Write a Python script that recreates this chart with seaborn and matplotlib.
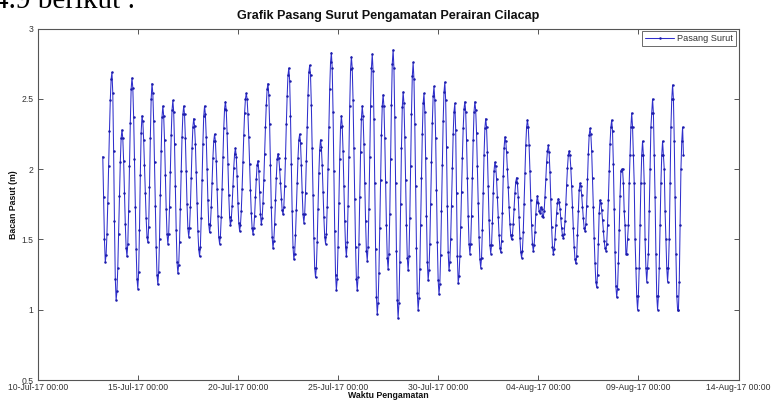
import matplotlib
matplotlib.use("Agg")
import matplotlib.pyplot as plt
import matplotlib.dates as mdates
from matplotlib.ticker import FuncFormatter, FixedLocator
import numpy as np
import pandas as pd
import seaborn as sns

# ---------------- data (hourly tide readings, m) ----------------
start_time = "2017-07-13 06:00"
bacan_pasut = [
    2.09, 1.80, 1.50, 1.34, 1.39, 1.54, 1.76, 2.02, 2.27, 2.49, 2.64, 2.69,
    2.54, 2.13, 1.63, 1.22, 1.07, 1.13, 1.30, 1.54, 1.81, 2.05, 2.22, 2.28,
    2.22, 2.06, 1.83, 1.61, 1.44, 1.38, 1.47, 1.70, 2.02, 2.33, 2.57, 2.65,
    2.58, 2.37, 2.07, 1.73, 1.43, 1.22, 1.15, 1.27, 1.57, 1.96, 2.26, 2.38,
    2.34, 2.21, 2.03, 1.83, 1.65, 1.52, 1.48, 1.59, 1.87, 2.22, 2.50, 2.61,
    2.54, 2.34, 2.05, 1.74, 1.45, 1.25, 1.18, 1.27, 1.50, 1.82, 2.13, 2.37, 2.45,
    2.38, 2.21, 1.96, 1.72, 1.54, 1.47, 1.54, 1.73, 1.98, 2.24, 2.42, 2.49,
    2.41, 2.18, 1.88, 1.57, 1.34, 1.26, 1.32, 1.48, 1.72, 1.99, 2.23, 2.39, 2.45,
    2.39, 2.22, 1.99, 1.75, 1.58, 1.52, 1.58, 1.73, 1.94, 2.15, 2.30, 2.36,
    2.31, 2.18, 1.98, 1.76, 1.56, 1.43, 1.38, 1.45, 1.65, 1.92, 2.18, 2.38, 2.45,
    2.39, 2.23, 2.00, 1.78, 1.61, 1.55, 1.60, 1.73, 1.90, 2.08, 2.20, 2.25,
    2.20, 2.06, 1.86, 1.67, 1.52, 1.47, 1.52, 1.66, 1.86, 2.09, 2.29, 2.43, 2.48,
    2.42, 2.26, 2.04, 1.82, 1.66, 1.60, 1.64, 1.74, 1.88, 2.01, 2.11, 2.15,
    2.09, 1.95, 1.76, 1.62, 1.56, 1.60, 1.70, 1.86, 2.05, 2.24, 2.40, 2.50, 2.54,
    2.50, 2.39, 2.23, 2.04, 1.85, 1.69, 1.58, 1.54, 1.58, 1.67, 1.80, 1.93, 2.03, 2.06,
    1.99, 1.84, 1.68, 1.61, 1.65, 1.76, 1.92, 2.11, 2.30, 2.46, 2.57, 2.61,
    2.53, 2.32, 2.03, 1.73, 1.52, 1.44, 1.49, 1.61, 1.78, 1.94, 2.07, 2.11,
    2.08, 2.00, 1.90, 1.79, 1.71, 1.68, 1.73, 1.88, 2.08, 2.32, 2.52, 2.67, 2.72,
    2.63, 2.38, 2.04, 1.70, 1.45, 1.36, 1.40, 1.53, 1.71, 1.90, 2.08, 2.21, 2.25,
    2.19, 2.03, 1.84, 1.68, 1.62, 1.68, 1.83, 2.06, 2.30, 2.53, 2.69, 2.74,
    2.67, 2.46, 2.15, 1.82, 1.51, 1.30, 1.23, 1.30, 1.48, 1.72, 1.97, 2.14, 2.21,
    2.16, 2.03, 1.84, 1.66, 1.52, 1.47, 1.54, 1.73, 2.00, 2.30, 2.57, 2.76, 2.83,
    2.72, 2.41, 1.99, 1.56, 1.25, 1.14, 1.22, 1.45, 1.76, 2.07, 2.30, 2.38,
    2.31, 2.13, 1.88, 1.63, 1.45, 1.38, 1.48, 1.74, 2.09, 2.45, 2.71, 2.80,
    2.72, 2.49, 2.15, 1.79, 1.45, 1.22, 1.14, 1.23, 1.47, 1.80, 2.12, 2.36, 2.45,
    2.38, 2.18, 1.90, 1.63, 1.42, 1.35, 1.45, 1.72, 2.09, 2.45, 2.72, 2.82,
    2.70, 2.36, 1.90, 1.43, 1.09, 0.97, 1.05, 1.26, 1.58, 1.92, 2.24, 2.45, 2.53,
    2.45, 2.22, 1.91, 1.60, 1.37, 1.29, 1.40, 1.68, 2.07, 2.46, 2.75, 2.85,
    2.72, 2.37, 1.90, 1.42, 1.07, 0.94, 1.05, 1.34, 1.75, 2.15, 2.44, 2.55,
    2.47, 2.23, 1.92, 1.60, 1.37, 1.28, 1.38, 1.65, 2.02, 2.39, 2.66, 2.76,
    2.64, 2.32, 1.88, 1.44, 1.12, 1.00, 1.08, 1.29, 1.60, 1.94, 2.25, 2.47, 2.54,
    2.41, 2.08, 1.67, 1.34, 1.21, 1.28, 1.47, 1.75, 2.05, 2.33, 2.52, 2.59,
    2.49, 2.22, 1.85, 1.48, 1.21, 1.11, 1.18, 1.39, 1.70, 2.03, 2.34, 2.55, 2.62,
    2.49, 2.16, 1.74, 1.41, 1.28, 1.34, 1.50, 1.74, 2.01, 2.25, 2.41, 2.47,
    2.28, 1.83, 1.38, 1.19, 1.24, 1.38, 1.59, 1.84, 2.08, 2.29, 2.43, 2.48,
    2.41, 2.21, 1.94, 1.67, 1.47, 1.40, 1.47, 1.67, 1.94, 2.21, 2.41, 2.48,
    2.42, 2.26, 2.02, 1.76, 1.52, 1.36, 1.30, 1.37, 1.57, 1.83, 2.10, 2.29, 2.36,
    2.30, 2.12, 1.88, 1.64, 1.46, 1.40, 1.46, 1.62, 1.83, 1.99, 2.05,
    2.02, 1.93, 1.80, 1.66, 1.53, 1.44, 1.41, 1.49, 1.69, 1.95, 2.15, 2.23,
    2.20, 2.12, 2.00, 1.87, 1.73, 1.61, 1.53, 1.50, 1.53, 1.61, 1.72, 1.83, 1.91, 1.94,
    1.90, 1.80, 1.66, 1.51, 1.41, 1.37, 1.42, 1.55, 1.75, 1.97, 2.17, 2.30, 2.35,
    2.30, 2.17, 1.99, 1.78, 1.60, 1.47, 1.42, 1.46, 1.55, 1.68, 1.77, 1.81,
    1.76, 1.70, 1.69, 1.73, 1.72, 1.67, 1.66, 1.70, 1.80, 1.93, 2.05, 2.13, 2.17,
    2.12, 1.98, 1.79, 1.59, 1.45, 1.40, 1.43, 1.50, 1.60, 1.69, 1.76, 1.79,
    1.77, 1.72, 1.65, 1.58, 1.53, 1.51, 1.54, 1.63, 1.75, 1.89, 2.01, 2.10, 2.13,
    2.10, 2.01, 1.88, 1.73, 1.58, 1.45, 1.36, 1.33, 1.38, 1.53, 1.70, 1.85, 1.90,
    1.88, 1.82, 1.73, 1.65, 1.58, 1.56, 1.61, 1.74, 1.93, 2.11, 2.24, 2.29,
    2.25, 2.13, 1.94, 1.73, 1.51, 1.33, 1.20, 1.16, 1.25, 1.47, 1.69, 1.78,
    1.76, 1.71, 1.64, 1.56, 1.49, 1.44, 1.42, 1.47, 1.60, 1.78, 1.99, 2.18, 2.30, 2.35,
    2.27, 2.04, 1.72, 1.41, 1.17, 1.09, 1.15, 1.33, 1.57, 1.81, 1.99, 2.0,
    2.0, 1.9, 1.7, 1.6, 1.4, 1.4, 1.5, 1.6, 1.9, 2.1, 2.3, 2.4,
    2.3, 2.1, 1.9, 1.5, 1.3, 1.1, 1.0, 1.1, 1.3, 1.6, 1.9, 2.1, 2.2,
    2.1, 1.9, 1.5, 1.3, 1.2, 1.3, 1.4, 1.7, 2.0, 2.3, 2.4, 2.5,
    2.4, 2.1, 1.8, 1.4, 1.1, 1.0, 1.1, 1.3, 1.6, 1.9, 2.1, 2.2,
    2.1, 2.0, 1.7, 1.5, 1.3, 1.2, 1.3, 1.5, 1.9, 2.3, 2.5, 2.6,
    2.5, 2.2, 1.8, 1.4, 1.1, 1.0, 1.0, 1.2, 1.6, 2.0, 2.2, 2.3, 2.1,
]
series_label = "Pasang Surut"
title_text = "Grafik Pasang Surut Pengamatan Perairan Cilacap"
x_label = "Waktu Pengamatan"
y_label = "Bacan Pasut (m)"
x_tick_dates = ["2017-07-10", "2017-07-15", "2017-07-20", "2017-07-25",
                "2017-07-30", "2017-08-04", "2017-08-09", "2017-08-14"]
y_ticks = [0.5, 1.0, 1.5, 2.0, 2.5, 3.0]
doc_fragment = "4.9 berikut :"

waktu = pd.date_range(start_time, periods=len(bacan_pasut), freq="h")
df = pd.DataFrame({"Waktu": waktu, "Bacan": bacan_pasut})

# ---------------- style ----------------
sns.set_style("white")
plt.rcParams["font.family"] = ["Liberation Sans", "DejaVu Sans"]

W, H = 772, 403
fig = plt.figure(figsize=(W / 100, H / 100), dpi=100)
ax_l, ax_r, ax_t, ax_b = 37.7, 738.5, 28.7, 380.0
ax = fig.add_axes([ax_l / W, 1 - ax_b / H, (ax_r - ax_l) / W, (ax_b - ax_t) / H])

line_col = "#2f2fcc"
sns.lineplot(data=df, x="Waktu", y="Bacan", ax=ax, sort=False, errorbar=None,
             color=line_col, linewidth=0.75, marker=".", markersize=3.6,
             markeredgewidth=0, markerfacecolor="#1c1caa", label=series_label)

ax.set_xlim(pd.Timestamp(x_tick_dates[0]), pd.Timestamp(x_tick_dates[-1]))
ax.set_ylim(y_ticks[0], y_ticks[-1])
ax.xaxis.set_major_locator(FixedLocator(mdates.date2num(pd.to_datetime(x_tick_dates))))
ax.xaxis.set_major_formatter(mdates.DateFormatter("%d-%b-%y %H:%M"))
ax.set_yticks(y_ticks)
ax.yaxis.set_major_formatter(FuncFormatter(lambda v, p: f"{v:g}"))

ax.set_xlabel("")
ax.set_ylabel("")
spine_col = "#555555"
for s in ax.spines.values():
    s.set_visible(True)
    s.set_color(spine_col)
    s.set_linewidth(0.8)
ax.tick_params(axis="both", which="major", direction="in", length=3.8, width=0.7,
               color=spine_col, top=True, right=True, bottom=True, left=True,
               labelsize=6.2, labelcolor="#333333")
ax.tick_params(axis="x", pad=1.8)
ax.tick_params(axis="y", pad=3.2)
ax.grid(False)

leg = ax.legend(loc="upper right", frameon=True, fancybox=False, fontsize=6.6,
                handlelength=3.2, handletextpad=0.3, borderpad=0.35,
                borderaxespad=0.25, framealpha=1)
leg.get_frame().set_edgecolor("#6a6a6a")
leg.get_frame().set_linewidth(0.7)
for t in leg.get_texts():
    t.set_color("#333333")

fig.text(388 / W, 1 - 18.5 / H, title_text, ha="center", va="baseline",
         fontsize=9.1, fontweight="bold", color="#111111")
fig.text(388 / W, 1 - 397.5 / H, x_label, ha="center", va="baseline",
         fontsize=6.3, fontweight="bold", color="#111111")
fig.text(14 / W, 1 - 204.4 / H, y_label, ha="center", va="center", rotation=90,
         fontsize=6.3, fontweight="bold", color="#111111")
fig.text(135 / W, 1 - 8.5 / H, doc_fragment, ha="right", va="baseline",
         fontsize=21, family=["Liberation Serif", "DejaVu Serif"], color="#000000")

fig.savefig("out.png", dpi=100, facecolor="white")
